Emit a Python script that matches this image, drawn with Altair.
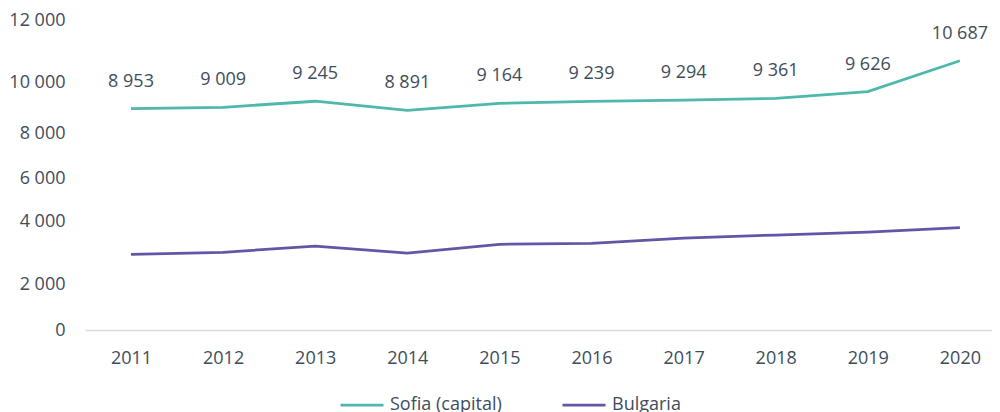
import altair as alt
import pandas as pd

years = ["2011", "2012", "2013", "2014", "2015", "2016", "2017", "2018", "2019", "2020"]
sofia = [8953, 9009, 9245, 8891, 9164, 9239, 9294, 9361, 9626, 10687]
bulgaria = [2940, 3005, 3205, 2980, 3260, 3290, 3460, 3555, 3650, 3790]
series = ["Sofia (capital)", "Bulgaria"]
colors = ["#4DB8AC", "#6455A6"]
y_ticks = [0, 2000, 4000, 6000, 8000, 10000, 12000]
# pixel placement of each tick inside the plot area (uneven spacing as in the reference)
tick_px = [322, 276, 213, 170, 125, 74, 12]

rows = []
for i, yr in enumerate(years):
    rows.append({"year": yr, "series": series[0], "value": sofia[i]})
    rows.append({"year": yr, "series": series[1], "value": bulgaria[i]})
df = pd.DataFrame(rows)

TEXT = "#3E4D5C"
FONT = "Open Sans"

x_enc = alt.X(
    "year:O",
    sort=years,
    scale=alt.Scale(type="point", padding=0.424, align=0.589),
    axis=alt.Axis(
        title=None, labelAngle=0, ticks=False, tickSize=0, grid=False,
        domainColor="#D9D9D9", domainWidth=1.3, labelPadding=19,
    ),
)
y_enc = alt.Y(
    "value:Q",
    scale=alt.Scale(domain=y_ticks, range=tick_px, nice=False, zero=False),
    axis=alt.Axis(
        title=None, values=y_ticks, domain=False, ticks=False, tickSize=0,
        grid=False, labelPadding=20,
        labelExpr="replace(format(datum.value, ','), ',', ' ')",
    ),
)

base = alt.Chart(df)

lines = base.mark_line(strokeWidth=2.75).encode(
    x=x_enc,
    y=y_enc,
    color=alt.Color(
        "series:N",
        sort=series,
        scale=alt.Scale(domain=series, range=colors),
        legend=alt.Legend(
            title=None, orient="none", direction="horizontal",
            legendX=254, legendY=374, padding=0,
            symbolType="stroke", symbolSize=1849, symbolStrokeWidth=2.75,
            labelOffset=5, columnPadding=55,
            labelFontSize=18, labelColor=TEXT, labelFont=FONT,
        ),
    ),
)

labels = base.transform_filter(
    alt.datum.series == series[0]
).transform_calculate(
    label="replace(format(datum.value, ','), ',', ' ')"
).mark_text(dy=-27, fontSize=18, color=TEXT, font=FONT).encode(
    x=x_enc,
    y=y_enc,
    text="label:N",
)

chart = alt.layer(lines, labels).properties(
    width=907,
    height=322,
    padding={"left": 77, "top": 0, "right": 0, "bottom": 82},
    autosize=alt.AutoSizeParams(type="none"),
).configure(
    font=FONT,
).configure_axis(
    labelFontSize=18, labelColor=TEXT, labelFont=FONT,
).configure_view(
    stroke=None,
)

chart.save("out.html", embed_options={"renderer": "svg", "actions": False})
